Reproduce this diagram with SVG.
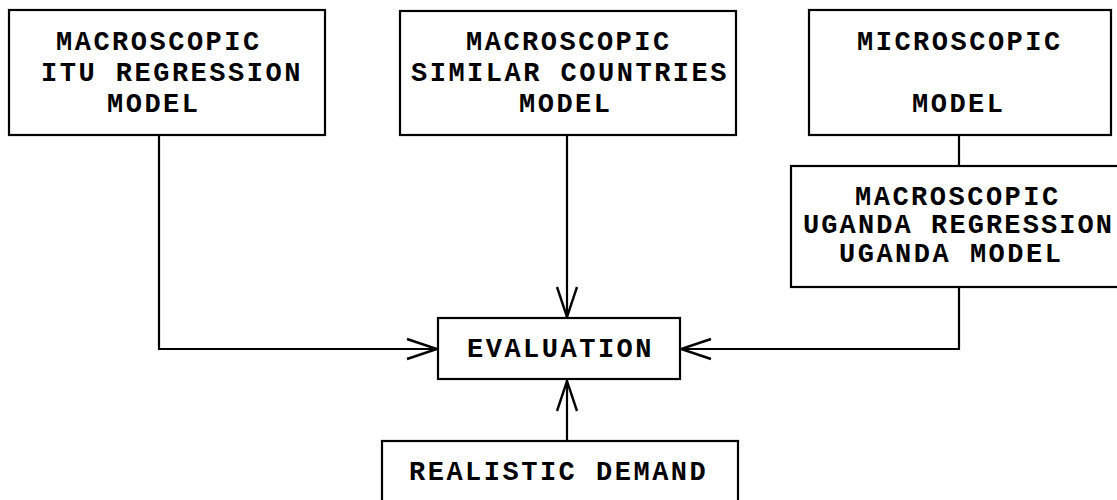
<svg xmlns="http://www.w3.org/2000/svg" width="1117" height="500" viewBox="0 0 1117 500">
  <defs>
    <style>
      .box { fill: #ffffff; stroke: #000000; stroke-width: 2.2; }
      .lbl { font-family: "Liberation Mono", "Courier New", monospace; font-weight: bold; font-size: 27px; letter-spacing: 2.5px; fill: #000000; }
      .tight { letter-spacing: 2.1px; }
      .wire { fill: none; stroke: #000000; stroke-width: 2.2; }
    </style>
    <marker id="vee" markerUnits="userSpaceOnUse" viewBox="-32 -12 34 24" refX="0" refY="0" markerWidth="34" markerHeight="24" orient="auto" overflow="visible">
      <path d="M-30,-10 L0,0 L-30,10" fill="none" stroke="#000000" stroke-width="2.4"/>
    </marker>
  </defs>
  <rect width="1117" height="500" fill="#ffffff"/>

  <g id="connectors">
    <path class="wire" d="M159,135 V349 H437" marker-end="url(#vee)"/>
    <path class="wire" d="M567,135 V317" marker-end="url(#vee)"/>
    <path class="wire" d="M959,135 V166"/>
    <path class="wire" d="M959,287 V349 H681" marker-end="url(#vee)"/>
    <path class="wire" d="M567,441 V381" marker-end="url(#vee)"/>
  </g>

  <g id="itu-regression">
    <rect class="box" x="9" y="10" width="316" height="125"/>
    <text class="lbl" x="56" y="50">MACROSCOPIC</text>
    <text class="lbl" x="41" y="81">ITU REGRESSION</text>
    <text class="lbl" x="107" y="112">MODEL</text>
  </g>

  <g id="similar-countries">
    <rect class="box" x="400" y="11" width="336" height="124"/>
    <text class="lbl" x="466" y="50">MACROSCOPIC</text>
    <text class="lbl" x="411" y="81">SIMILAR COUNTRIES</text>
    <text class="lbl" x="519" y="112">MODEL</text>
  </g>

  <g id="microscopic">
    <rect class="box" x="809" y="10" width="302" height="125"/>
    <text class="lbl" x="857" y="50">MICROSCOPIC</text>
    <text class="lbl" x="912" y="112">MODEL</text>
  </g>

  <g id="uganda-regression">
    <rect class="box" x="791" y="166" width="340" height="121"/>
    <text class="lbl" x="855" y="205">MACROSCOPIC</text>
    <text class="lbl tight" x="803" y="233">UGANDA REGRESSION</text>
    <text class="lbl" x="839" y="262">UGANDA MODEL</text>
  </g>

  <g id="evaluation">
    <rect class="box" x="438" y="318" width="242" height="61"/>
    <text class="lbl" x="467" y="357">EVALUATION</text>
  </g>

  <g id="realistic-demand">
    <rect class="box" x="382" y="441" width="356" height="70"/>
    <text class="lbl" x="409" y="480">REALISTIC DEMAND</text>
  </g>
</svg>
